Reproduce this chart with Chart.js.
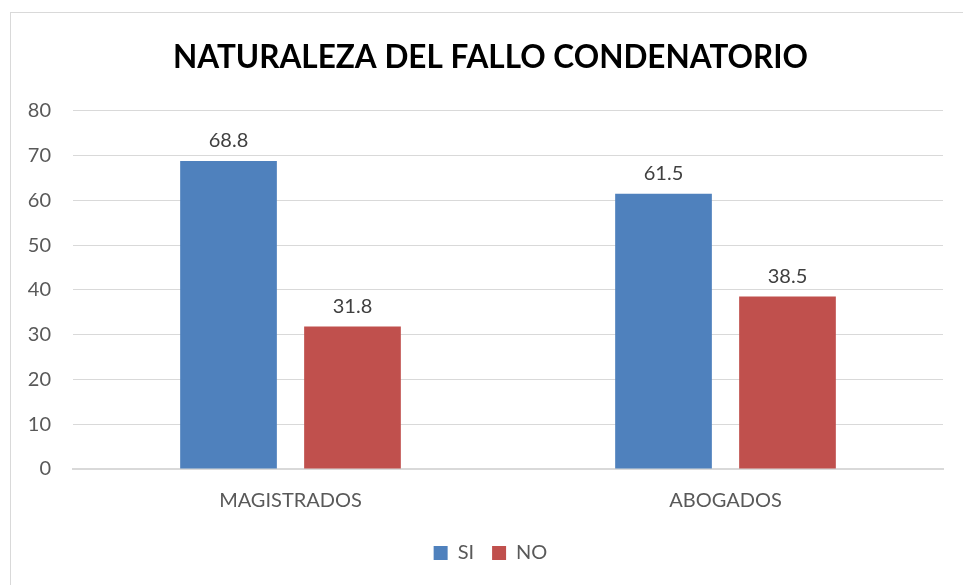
<!DOCTYPE html>
<html>
<head>
<meta charset="utf-8">
<script src="https://cdn.jsdelivr.net/npm/chart.js@4/dist/chart.umd.min.js"></script>
<style>
  html, body { margin: 0; padding: 0; background: #fff; overflow: hidden; }
  #frame { position: absolute; left: 10px; top: 12px; width: 1000px; height: 620px; border: 1px solid #d9d9d9; }
  #wrap { position: absolute; left: 0; top: 0; width: 963px; height: 585px; }
</style>
</head>
<body>
<div id="frame"></div>
<div id="wrap"><canvas id="chart" width="963" height="585"></canvas></div>
<script>
const CATEGORIES = ['MAGISTRADOS', 'ABOGADOS'];
const SI_VALUES = [68.8, 61.5];
const NO_VALUES = [31.8, 38.5];
const Y_MAX = 80;
const Y_STEP = 10;

const FONT = 'Lato, "Open Sans", sans-serif';

// draws the value above each bar
const valueLabels = {
    id: 'valueLabels',
    afterDatasetsDraw(chart) {
        const ctx = chart.ctx;
        ctx.save();
        ctx.font = '20px ' + FONT;
        ctx.fillStyle = '#404040';
        ctx.textAlign = 'center';
        ctx.textBaseline = 'bottom';
        chart.data.datasets.forEach((ds, i) => {
            chart.getDatasetMeta(i).data.forEach((bar, j) => {
                ctx.fillText(ds.data[j].toFixed(1), bar.x, bar.y - 10);
            });
        });
        ctx.restore();
    }
};

// title and legend sit a little right of the plot centre in the original
const nudgeBlocks = {
    id: 'nudgeBlocks',
    afterLayout(chart) {
        [chart.titleBlock, chart.legend].forEach(b => {
            if (b) { b.left += 9; b.right += 9; }
        });
    }
};

const chartConfig = {
    type: 'bar',
    data: {
        labels: CATEGORIES,
        datasets: [
            {
                label: 'SI',
                data: SI_VALUES,
                backgroundColor: '#4f81bd',
                categoryPercentage: 0.57,
                barPercentage: 0.78
            },
            {
                label: 'NO',
                data: NO_VALUES,
                backgroundColor: '#c0504d',
                categoryPercentage: 0.57,
                barPercentage: 0.78
            }
        ]
    },
    options: {
        responsive: false,
        animation: false,
        layout: { padding: { left: 20, right: 20, top: 22, bottom: 12 } },
        plugins: {
            title: {
                display: true,
                text: 'NATURALEZA DEL FALLO CONDENATORIO',
                color: '#000',
                font: { family: FONT, size: 31.5, weight: 'bold' },
                padding: { top: 17, bottom: 34 }
            },
            legend: {
                position: 'bottom',
                labels: {
                    color: '#595959',
                    font: { family: FONT, size: 20 },
                    boxWidth: 14,
                    boxHeight: 14,
                    padding: 18
                }
            },
            tooltip: { enabled: false }
        },
        scales: {
            x: {
                grid: { display: false },
                border: { color: '#d9d9d9', width: 2 },
                ticks: { color: '#595959', font: { family: FONT, size: 20 }, padding: 12 }
            },
            y: {
                min: 0,
                max: Y_MAX,
                ticks: { stepSize: Y_STEP, color: '#595959', font: { family: FONT, size: 20 }, padding: 22 },
                grid: { color: '#d9d9d9', drawTicks: false, lineWidth: 1 },
                border: { display: false },
                afterFit(axis) { axis.width = 53; }
            }
        }
    },
    plugins: [valueLabels, nudgeBlocks]
};

const barChart = new Chart(document.getElementById('chart'), chartConfig);
</script>
</body>
</html>
